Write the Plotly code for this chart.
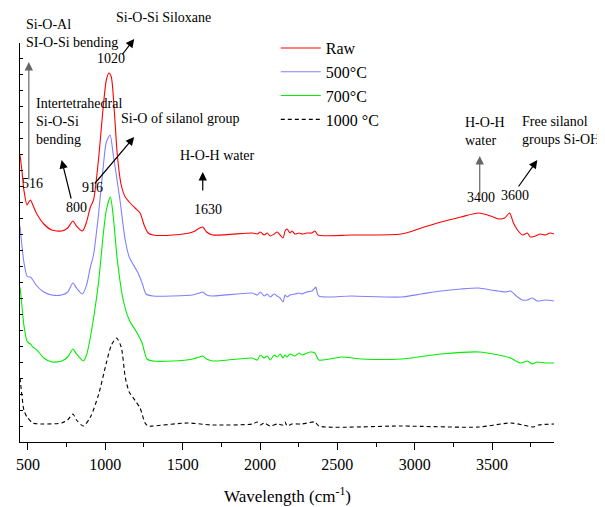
import plotly.graph_objects as go

# ---------------- data (wavenumber cm-1, intensity a.u.) ----------------
raw_x = [449, 461, 474, 494, 506, 517, 532, 558, 603, 654, 718, 757, 791, 814, 853, 879, 904, 924, 956, 988,
         1007, 1024, 1039, 1058, 1078, 1103, 1129, 1155, 1193, 1225, 1251, 1277, 1309, 1437, 1565, 1610, 1630,
         1655, 1694, 1950, 1983, 2002, 2027, 2047, 2066, 2092, 2111, 2130, 2149, 2162, 2175, 2194, 2207, 2226,
         2252, 2271, 2303, 2335, 2355, 2374, 2592, 2913, 3042, 3170, 3298, 3414, 3491, 3542, 3581, 3613, 3638,
         3664, 3696, 3728, 3747, 3779, 3811, 3843, 3875, 3900]
raw_y = [287, 272, 252, 237, 240, 242, 237, 228, 218, 212, 211, 214, 221, 216, 211, 220, 235, 242, 282, 337,
         362, 369, 365, 332, 287, 257, 245, 240, 234, 229, 217, 209, 207, 207, 210, 214, 215,
         210, 207, 209, 208, 210, 207, 209, 206, 208, 210, 207, 204, 211, 213, 209, 211, 208,
         209, 208, 209, 209, 211, 207, 207, 208, 214, 220, 225, 229, 226, 223, 224, 229, 219,
         212, 207, 209, 205, 206, 208, 207, 209, 208]

c500_x = [449, 461, 474, 494, 506, 517, 532, 558, 603, 654, 718, 757, 791, 814, 853, 879, 904, 924, 956, 988,
          1007, 1031, 1052, 1095, 1129, 1155, 1212, 1238, 1264, 1309, 1437, 1565, 1610, 1630, 1655, 1694,
          1950, 1983, 2002, 2027, 2047, 2066, 2092, 2111, 2130, 2149, 2162, 2175, 2194, 2226, 2252, 2271,
          2303, 2335, 2355, 2361, 2380, 2592, 2913, 3042, 3170, 3298, 3414, 3491, 3542, 3587, 3619, 3664,
          3696, 3728, 3760, 3792, 3843, 3900]
c500_y = [216, 197, 180, 166, 165, 165, 162, 156, 150, 147, 147, 150, 159, 154, 148, 157, 175, 187, 227, 277,
          300, 307, 287, 242, 202, 185, 169, 159, 148, 146, 146, 147, 149, 150, 147, 146,
          149, 147, 150, 146, 148, 145, 148, 146, 144, 140, 147, 145, 147, 148, 149, 148,
          150, 151, 154, 155, 146, 146, 145, 148, 151, 153, 154, 152, 151, 150, 151, 145,
          142, 142, 144, 141, 142, 141]

c700_x = [449, 461, 474, 494, 506, 517, 532, 558, 603, 654, 718, 757, 791, 814, 859, 879, 904, 956, 988, 1007,
          1033, 1052, 1078, 1116, 1155, 1206, 1238, 1270, 1309, 1437, 1565, 1610, 1630, 1655, 1694, 1950,
          1983, 2002, 2027, 2047, 2066, 2092, 2111, 2130, 2149, 2162, 2175, 2194, 2226, 2252, 2271, 2323,
          2355, 2380, 2528, 2656, 2913, 3170, 3414, 3542, 3619, 3683, 3728, 3760, 3792, 3843, 3900]
c700_y = [155, 137, 117, 101, 99, 98, 95, 92, 84, 80, 81, 85, 93, 88, 81, 87, 105, 159, 209, 232,
          245, 225, 182, 142, 122, 109, 99, 83, 81, 81, 83, 85, 86, 83, 81, 84,
          82, 87, 84, 86, 82, 87, 85, 88, 84, 87, 85, 88, 86, 89, 87, 90,
          89, 82, 85, 83, 83, 88, 90, 87, 84, 79, 81, 78, 80, 79, 79]

c1000_x = [449, 461, 474, 494, 532, 603, 718, 757, 791, 814, 859, 904, 956, 1007, 1040, 1073, 1103, 1129, 1155,
           1200, 1225, 1257, 1277, 1309, 1533, 1694, 1950, 1983, 2002, 2027, 2066, 2111, 2149, 2162, 2175,
           2207, 2271, 2355, 2380, 2913, 3414, 3619, 3700, 3767, 3800, 3900]
c1000_y = [64, 47, 32, 25, 19, 18, 19, 22, 28, 22, 16, 25, 47, 79, 97, 104, 95, 65, 50,
           40, 34, 19, 16, 16, 19, 17, 18, 20, 17, 19, 16, 18, 17, 20, 16,
           18, 18, 20, 16, 16, 15, 19, 17, 15, 17, 18]

series_names = ["Raw", "500°C", "700°C", "1000 °C"]
series_colors = ["#FF0000", "#8080FF", "#00EE00", "#000000"]
series_dash = ["solid", "solid", "solid", "4px,3px"]

x_ticks = [500, 1000, 1500, 2000, 2500, 3000, 3500]
x_minor = [750, 1250, 1750, 2250, 2750, 3250, 3750]
x_title = "Wavelength (cm<sup>-1</sup>)"

# band labels inside the axis range: (text, x, y, xanchor)
labels = [
    ("1020", 1039, 384, "center"),
    ("Intertetrahedral<br>Si-O-Si<br>bending", 539, 321, "left"),
    ("Si-O of silanol group", 1090, 324, "left"),
    ("H-O-H water", 1469, 287, "left"),
    ("H-O-H<br>water", 3311, 311, "left"),
    ("Free silanol<br>groups Si-OH", 3680, 312, "left"),
    ("516", 532, 259, "center"),
    ("800", 814, 235, "center"),
    ("916", 917, 255, "center"),
    ("1630", 1662, 233, "center"),
    ("3400", 3427, 245, "center"),
    ("3600", 3651, 247, "center"),
]
# band labels above the plot (x in data, y as fraction of plot height)
top_labels = [
    ("Si-O-Al<br>SI-O-Si bending", 474, 1.0226, "left"),
    ("Si-O-Si Siloxane", 1058, 1.0627, "left"),
]
# arrows: (head x, head y, tail x, tail y, colour)
arrows = [
    (506, 380, 506, 261, "#666666"),
    (1187, 403, 1103, 386, "#000000"),
    (718, 282, 782, 242, "#000000"),
    (1187, 305, 924, 257, "#000000"),
    (1630, 270, 1630, 250, "#000000"),
    (3420, 286, 3420, 244, "#666666"),
    (3792, 282, 3664, 254, "#000000"),
]

FONT = "Liberation Serif, Times New Roman, serif"

fig = go.Figure()
for xs, ys, name, col, dash in zip([raw_x, c500_x, c700_x, c1000_x],
                                   [raw_y, c500_y, c700_y, c1000_y],
                                   series_names, series_colors, series_dash):
    fig.add_trace(go.Scatter(x=xs, y=ys, mode="lines", name=name,
                             line=dict(color=col, width=1.1, dash=dash, shape="spline", smoothing=0.7)))

for text, x, y, xa in labels:
    fig.add_annotation(x=x, y=y, xref="x", yref="y", text=text, showarrow=False,
                       xanchor=xa, yanchor="middle", align="left",
                       font=dict(family=FONT, size=14, color="black"))
for text, x, y, xa in top_labels:
    fig.add_annotation(x=x, y=y, xref="x", yref="paper", text=text, showarrow=False,
                       xanchor=xa, yanchor="middle", align="left",
                       font=dict(family=FONT, size=14, color="black"))
for hx, hy, tx, ty, col in arrows:
    fig.add_annotation(x=hx, y=hy, ax=tx, ay=ty, xref="x", yref="y", axref="x", ayref="y",
                       text="", showarrow=True, arrowhead=2, arrowsize=1.4, arrowwidth=1.2,
                       arrowcolor=col)

# x-axis title placed as a paper annotation for exact vertical placement
fig.add_annotation(x=0.5, y=-0.1325, xref="paper", yref="paper", text=x_title, showarrow=False,
                   xanchor="center", yanchor="middle", font=dict(family=FONT, size=17, color="black"))

fig.update_layout(
    width=597, height=499,
    margin=dict(l=8, r=51, t=35, b=65),
    paper_bgcolor="white", plot_bgcolor="white",
    font=dict(family=FONT, size=16, color="black"),
    showlegend=True,
    legend=dict(x=0.479, y=1.03, xanchor="left", yanchor="top", bgcolor="rgba(0,0,0,0)",
                font=dict(family=FONT, size=16), tracegroupgap=0, itemwidth=40),
    xaxis=dict(range=[449, 3900], tickvals=x_ticks, ticktext=[str(v) for v in x_ticks],
               showline=True, linecolor="black", linewidth=1.2, ticks="outside", ticklen=7,
               tickwidth=1.2, tickcolor="black", showgrid=False, zeroline=False,
               tickfont=dict(family=FONT, size=16), ticklabelstandoff=1,
               minor=dict(tickvals=x_minor, ticks="outside",
                          ticklen=4, tickwidth=1.2, tickcolor="black")),
    yaxis=dict(range=[0, 399], tick0=0, dtick=15.96, showticklabels=False,
               showline=True, linecolor="black", linewidth=1.2, ticks="inside", ticklen=3,
               tickwidth=1, tickcolor="black", showgrid=False, zeroline=False),
)

fig.write_html("out.html")
